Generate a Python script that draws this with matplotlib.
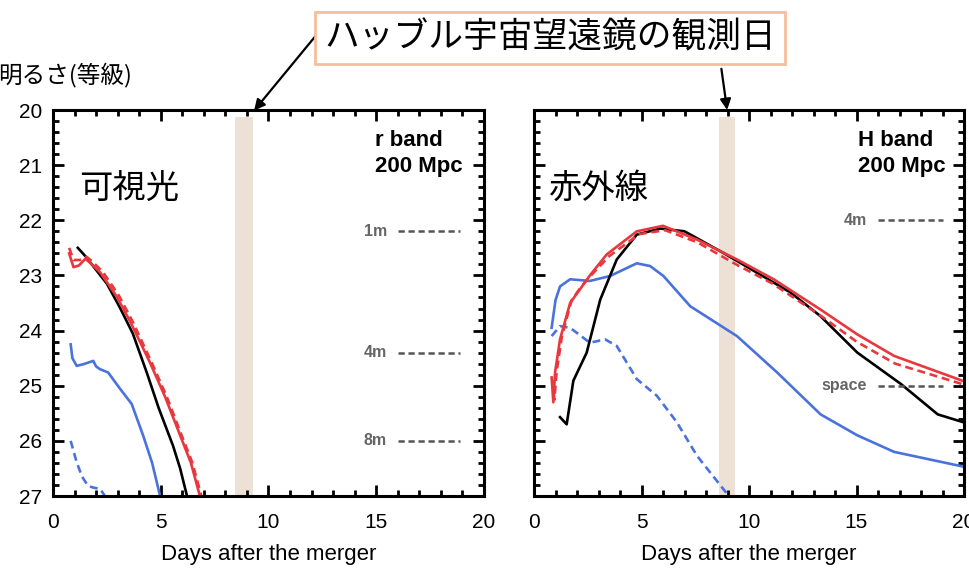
import numpy as np
import matplotlib.pyplot as plt
from matplotlib.ticker import MultipleLocator

plt.rcParams['font.family'] = ['Liberation Sans', 'Noto Sans CJK JP', 'DejaVu Sans']

# --- data (days, magnitude) ---
# optical, r band
r_black_x = [1.15, 1.5, 2.0, 2.5, 3.1, 3.7, 4.35, 4.9, 5.57, 5.9, 6.25]
r_black_y = [22.5, 22.65, 22.9, 23.15, 23.58, 24.05, 24.76, 25.4, 26.09, 26.5, 27.05]
r_red_x = [0.75, 0.95, 1.2, 1.5, 1.72, 2.2, 2.95, 3.6, 4.5, 5.2, 5.9, 6.4, 6.85]
r_red_y = [22.6, 22.85, 22.82, 22.7, 22.77, 22.95, 23.38, 23.85, 24.58, 25.2, 25.9, 26.4, 27.05]
r_red_d_x = [0.75, 0.95, 1.25, 1.55, 1.8, 2.3, 3.05, 3.7, 4.58, 5.28, 5.97, 6.47, 6.92]
r_red_d_y = [22.5, 22.72, 22.72, 22.66, 22.74, 22.93, 23.36, 23.84, 24.58, 25.2, 25.9, 26.4, 27.05]
r_blue_x = [0.82, 0.9, 1.1, 1.41, 1.87, 2.0, 2.18, 2.56, 3.1, 3.65, 4.18, 4.6, 4.97]
r_blue_y = [24.25, 24.5, 24.64, 24.61, 24.55, 24.65, 24.7, 24.76, 25.05, 25.33, 25.9, 26.4, 27.0]
r_blue_d_x = [0.82, 1.1, 1.35, 1.63, 1.9, 2.18, 2.41]
r_blue_d_y = [26.0, 26.39, 26.65, 26.82, 26.85, 26.87, 27.0]

# infrared, H band
h_black_x = [1.21, 1.52, 1.83, 2.45, 3.08, 3.85, 4.78, 5.87, 7.0, 8.8, 10.37, 11.93, 13.33, 15.04, 17.07, 18.78, 19.95]
h_black_y = [25.57, 25.7, 24.91, 24.4, 23.44, 22.71, 22.26, 22.15, 22.2, 22.59, 22.95, 23.31, 23.74, 24.4, 24.97, 25.52, 25.66]
h_red_x = [0.82, 0.9, 0.98, 1.21, 1.68, 2.14, 2.6, 3.38, 4.78, 6.0, 7.58, 9.44, 11.15, 13.33, 15.04, 16.75, 20.0]
h_red_y = [24.85, 25.3, 24.76, 24.16, 23.5, 23.25, 23.0, 22.62, 22.2, 22.1, 22.35, 22.71, 23.07, 23.62, 24.07, 24.46, 24.92]
h_red_d_x = [0.85, 0.95, 1.05, 1.3, 1.75, 2.2, 2.7, 3.5, 4.9, 6.1, 7.6, 9.4, 11.1, 13.3, 15.0, 16.8, 20.0]
h_red_d_y = [24.9, 25.25, 24.75, 24.1, 23.45, 23.2, 22.98, 22.65, 22.25, 22.18, 22.4, 22.8, 23.15, 23.72, 24.2, 24.6, 24.98]
h_blue_x = [0.82, 1.0, 1.21, 1.68, 2.6, 3.54, 4.78, 5.4, 6.02, 7.27, 9.44, 11.31, 13.33, 15.04, 16.75, 20.0]
h_blue_y = [23.95, 23.45, 23.2, 23.07, 23.1, 23.01, 22.78, 22.83, 23.01, 23.56, 24.1, 24.76, 25.52, 25.9, 26.2, 26.47]
h_blue_d_x = [0.82, 1.21, 1.68, 2.6, 3.31, 3.85, 4.78, 5.71, 6.64, 7.58, 8.98]
h_blue_d_y = [24.1, 23.92, 23.95, 24.22, 24.16, 24.28, 24.88, 25.18, 25.66, 26.27, 26.96]

# telescope detection limits
r_limits = ['1m', '4m', '8m']
r_limit_mag = [22.2, 24.4, 26.0]
h_limits = ['4m', 'space']
h_limit_mag = [22.0, 25.0]

# HST observation days (band range)
hst_left = (8.45, 9.3)
hst_right = (8.6, 9.35)

red = '#e8383d'
blue = '#4a72dc'
band_col = '#ede1d6'
lw = 1.9

fig = plt.figure(figsize=(9.7, 5.69), dpi=100)
ax1 = fig.add_axes([53 / 970, 73 / 569, 431 / 970, 386 / 569])
ax2 = fig.add_axes([534 / 970, 73 / 569, 430 / 970, 386 / 569])


def style_axes(ax, labels=True):
    ax.set_xlim(0, 20)
    ax.set_ylim(27, 20)
    ax.xaxis.set_major_locator(MultipleLocator(5))
    ax.xaxis.set_minor_locator(MultipleLocator(1))
    ax.yaxis.set_major_locator(MultipleLocator(1))
    ax.yaxis.set_minor_locator(MultipleLocator(0.2))
    ax.tick_params(which='both', direction='in', top=True, right=True, width=2)
    ax.tick_params(which='major', length=8, labelsize=15)
    ax.tick_params(axis='x', which='major', pad=12)
    ax.tick_params(axis='y', which='major', pad=8)
    ax.tick_params(which='minor', length=4)
    if not labels:
        ax.tick_params(axis='y', labelleft=False)
    for s in ax.spines.values():
        s.set_linewidth(2.2)
    ax.set_xlabel('Days after the merger', fontsize=16, labelpad=9)


style_axes(ax1)
style_axes(ax2, labels=False)

ax1.axvspan(*hst_left, ymin=0, ymax=0.982, color=band_col, lw=0, zorder=0)
ax2.axvspan(*hst_right, ymin=0, ymax=0.982, color=band_col, lw=0, zorder=0)

ax1.plot(r_blue_d_x, r_blue_d_y, color=blue, lw=lw, ls=(0, (3, 1.8)))
ax1.plot(r_blue_x, r_blue_y, color=blue, lw=lw)
ax1.plot(r_black_x, r_black_y, color='black', lw=lw)
ax1.plot(r_red_d_x, r_red_d_y, color=red, lw=lw, ls=(0, (3, 1.8)))
ax1.plot(r_red_x, r_red_y, color=red, lw=lw)

ax2.plot(h_blue_d_x, h_blue_d_y, color=blue, lw=lw, ls=(0, (3, 1.8)))
ax2.plot(h_blue_x, h_blue_y, color=blue, lw=lw)
ax2.plot(h_black_x, h_black_y, color='black', lw=lw)
ax2.plot(h_red_d_x, h_red_d_y, color=red, lw=lw, ls=(0, (3, 1.8)))
ax2.plot(h_red_x, h_red_y, color=red, lw=lw)

for name, mag in zip(r_limits, r_limit_mag):
    ax1.plot([16.0, 18.9], [mag, mag], color='#555555', lw=1.8, ls=(0, (2.5, 1.5)))
    ax1.text(15.5, mag, name, ha='right', va='center', fontsize=11.5, color='#666666', fontweight='bold')
for name, mag in zip(h_limits, h_limit_mag):
    ax2.plot([16.0, 19.0], [mag, mag], color='#555555', lw=1.8, ls=(0, (2.5, 1.5)))
    ax2.text(15.5, mag, name, ha='right', va='center', fontsize=11.5, color='#666666', fontweight='bold')

ax1.text(14.94, 20.55, 'r band', ha='left', va='center', fontsize=16, fontweight='bold')
ax1.text(14.94, 21.03, '200 Mpc', ha='left', va='center', fontsize=16, fontweight='bold')
ax2.text(15.06, 20.55, 'H band', ha='left', va='center', fontsize=16, fontweight='bold')
ax2.text(15.06, 21.03, '200 Mpc', ha='left', va='center', fontsize=16, fontweight='bold')

ax1.text(1.2, 21.42, '可視光', fontsize=24, va='center', family=['Noto Sans CJK JP'])
ax2.text(0.7, 21.42, '赤外線', fontsize=24, va='center', family=['Noto Sans CJK JP'])

fig.text(132 / 970, 1 - 75 / 569, '明るさ(等級)', ha='right', va='center', fontsize=17,
         family=['Noto Sans CJK JP'])

fig.text(550 / 970, 1 - 38 / 569, 'ハッブル宇宙望遠鏡の観測日', ha='center', va='center',
         fontsize=25, family=['Noto Sans CJK JP'],
         bbox=dict(boxstyle='square,pad=0.25', fc='white', ec='#f4bf9c', lw=2))

ax1.annotate('', xy=(hst_left[1] - 0.05, 20.05), xycoords='data',
             xytext=(318 / 970, 1 - 33 / 569), textcoords='figure fraction',
             arrowprops=dict(arrowstyle='-|>', color='black', lw=1.6, mutation_scale=16),
             annotation_clip=False)
ax2.annotate('', xy=(9.0, 20.05), xycoords='data',
             xytext=(721 / 970, 1 - 66 / 569), textcoords='figure fraction',
             arrowprops=dict(arrowstyle='-|>', color='black', lw=1.6, mutation_scale=16),
             annotation_clip=False)

fig.savefig('out.png', dpi=100)
